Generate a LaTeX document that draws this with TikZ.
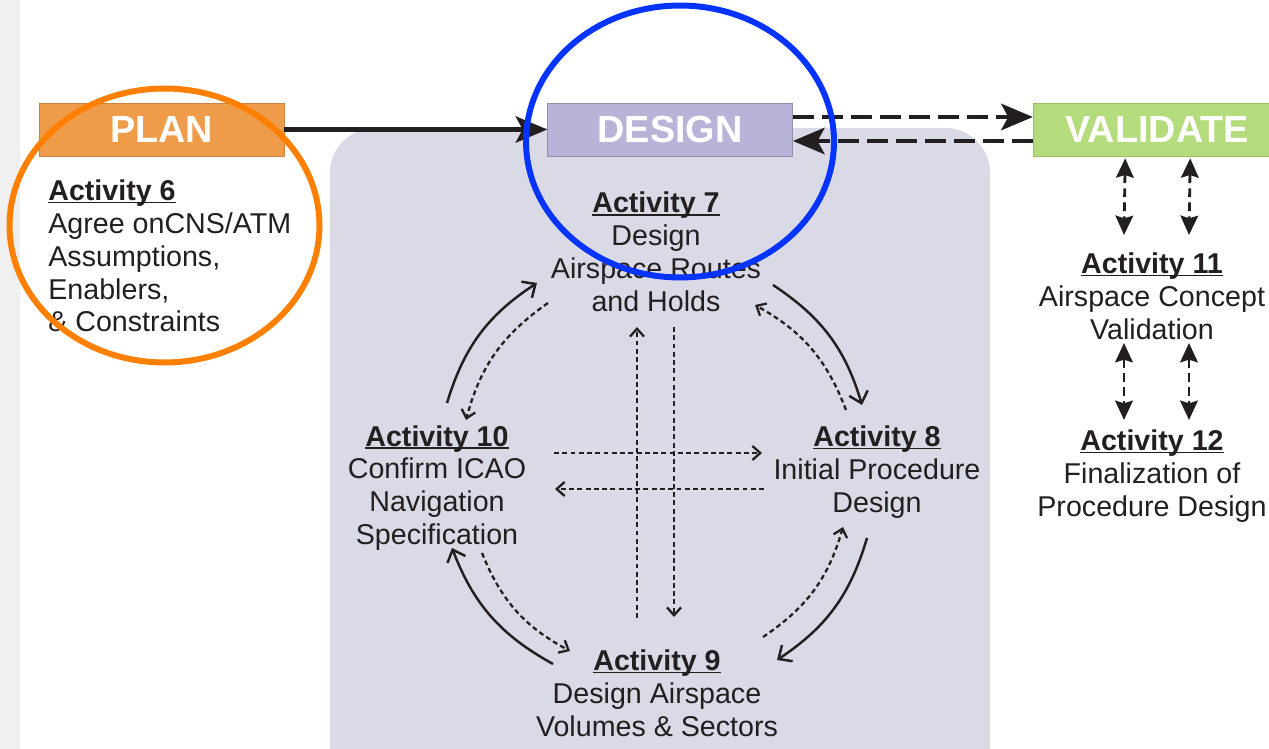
\documentclass[tikz,border=0pt]{standalone}
\usepackage{fontspec}
\setmainfont{Liberation Sans}
\usetikzlibrary{positioning,arrows.meta,calc}
\definecolor{planorange}{HTML}{EE9B4A}
\definecolor{designlilac}{HTML}{B8B4D7}
\definecolor{validgreen}{HTML}{B5DC7C}
\definecolor{panelgray}{HTML}{DADAE6}
\definecolor{ink}{HTML}{231F20}
\definecolor{ringorange}{HTML}{FF7F00}
\definecolor{ringblue}{HTML}{0533FF}
\newcommand{\acthead}[1]{\setbox0\hbox{\bfseries #1}\rlap{\rule[-1.6pt]{\wd0}{0.9pt}}\box0}

\begin{document}
\begin{tikzpicture}[
    x=0.02cm, y=0.02cm,
    phase/.style={
        minimum width=4.9cm,
        minimum height=1.06cm,
        inner sep=0pt,
        text=white,
        font=\fontsize{21.5}{24}\selectfont\bfseries
        },
    activity/.style={
        align=center,
        inner sep=0pt,
        text=ink,
        font=\fontsize{16.3}{18.7}\selectfont
        },
    solidarc/.style={draw=ink, line width=1.4pt, -{Straight Barb[length=6pt,width=11pt]}},
    dotarc/.style={draw=ink, line width=1.3pt, dash pattern=on 2.8pt off 1.9pt, -{Straight Barb[length=4.5pt,width=8pt]}},
    toplink/.style={draw=ink, line width=2.7pt, dash pattern=on 12pt off 4.5pt, -{Stealth[length=18pt,width=15pt,inset=4pt]}},
    sidelink/.style={draw=ink, line width=1.6pt, dash pattern=on 5pt off 3pt,
        {Stealth[length=11pt,width=10pt,inset=1.5pt]}-{Stealth[length=11pt,width=10pt,inset=1.5pt]}},
    ring/.style={draw=#1, line width=3.4pt}
    ]
    \clip (0,0) rectangle (1269,-749);
    \fill[gray!12] (0,0) rectangle (20,-749);
    \fill[panelgray, rounded corners=0.9cm] (330,-128) rectangle (990,-800);

    % phases
    \node[phase, fill=planorange, draw=planorange!85!black] (plan) at (161.5,-129.5) {PLAN};
    \node[phase, fill=designlilac, draw=designlilac!80!black, right=5.26cm of plan] (design) {DESIGN};
    \node[phase, fill=validgreen, draw=validgreen!85!black, minimum width=4.96cm, right=4.8cm of design] (validate) {VALIDATE};

    % activities
    \node[activity, align=left, anchor=west] (act6) at (48,-256) {\acthead{Activity 6}\\Agree onCNS/ATM\\Assumptions,\\Enablers,\\\& Constraints};
    \node[activity] (act7) at (656,-252) {\acthead{Activity 7}\\Design\\Airspace Routes\\and Holds};
    \node[activity] (act8) at (877,-472) {\acthead{Activity 8}\\Initial Procedure\\Design};
    \node[activity] (act9) at (657,-693) {\acthead{Activity 9}\\Design Airspace\\Volumes \& Sectors};
    \node[activity] (act10) at (437,-488) {\acthead{Activity 10}\\Confirm ICAO\\Navigation\\Specification};
    \node[activity] (act11) at (1152,-296) {\acthead{Activity 11}\\Airspace Concept\\Validation};
    \node[activity] (act12) at (1152,-476) {\acthead{Activity 12}\\Finalization of\\Procedure Design};

    % phase links
    \draw[ink, line width=2.3pt, -{Stealth[length=18pt,width=15pt,inset=4pt]}] (plan) -- (design);
    \draw[toplink] ([yshift=0.25cm]design.east) -- ([yshift=0.25cm]validate.west);
    \draw[toplink] ([yshift=-0.23cm]validate.west) -- ([yshift=-0.23cm]design.east);
    \draw[sidelink] ($(validate.south)+(-32,-2)$) -- ($(act11)+(-28,61)$);
    \draw[sidelink] ($(validate.south)+(33,-2)$) -- ($(act11)+(37,61)$);
    \draw[sidelink] ($(act11)+(-28,-47)$) -- ($(act12)+(-28,56)$);
    \draw[sidelink] ($(act11)+(37,-47)$) -- ($(act12)+(37,56)$);

    % cycle
    \draw[solidarc] ($(act10)+(10,85)$) to[bend left=20] ($(act7)+(-119,-31)$);
    \draw[solidarc] ($(act7)+(117,-33)$) to[bend left=20] ($(act8)+(-15,67)$);
    \draw[solidarc] ($(act8)+(-10,-66)$) to[bend left=20] ($(act9)+(120,33)$);
    \draw[solidarc] ($(act9)+(-104,29)$) to[bend left=20] ($(act10)+(15,-60)$);
    \draw[dotarc] ($(act7)+(-108,-51)$) to[bend right=20] ($(act10)+(29,68)$);
    \draw[dotarc] ($(act8)+(-31,62)$) to[bend right=20] ($(act7)+(99,-53)$);
    \draw[dotarc] ($(act9)+(106,56)$) to[bend right=20] ($(act8)+(-34,-55)$);
    \draw[dotarc] ($(act10)+(45,-65)$) to[bend right=20] ($(act9)+(-87,42)$);
    \draw[dotarc] ($(act9)+(-20,75)$) -- ($(act7)+(-19,-75)$);
    \draw[dotarc] ($(act7)+(18,-75)$) -- ($(act9)+(17,76)$);
    \draw[dotarc] ($(act10)+(117,35)$) -- ($(act8)+(-115,19)$);
    \draw[dotarc] ($(act8)+(-113,-17)$) -- ($(act10)+(118,-1)$);

    % highlight rings
    \draw[ring=ringorange] (164.5,-225.5) ellipse [x radius=3.1cm, y radius=2.74cm];
    \draw[ring=ringblue] (680,-141.5) ellipse [x radius=3.08cm, y radius=2.72cm];
\end{tikzpicture}
\end{document}
